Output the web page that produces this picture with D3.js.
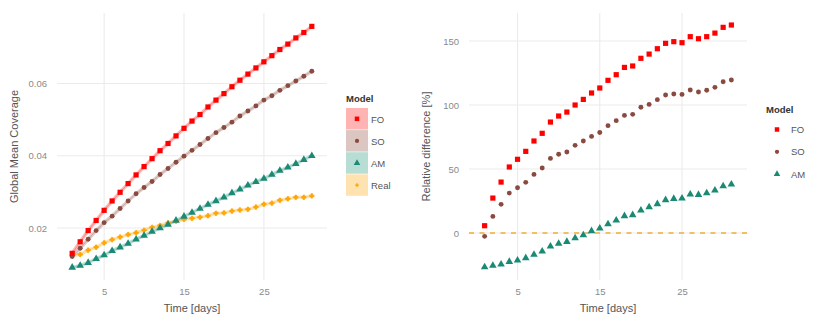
<!DOCTYPE html>
<html>
<head>
<meta charset="utf-8">
<script src="https://cdn.jsdelivr.net/npm/d3@7"></script>
<style>
  body { margin: 0; background: #fff; }
  svg text { font-family: "Liberation Sans", Arial, sans-serif; }
</style>
</head>
<body>
<svg id="chart" width="830" height="323"></svg>
<script>
// days 1..31
var days = d3.range(1, 32);

// left panel: global mean coverage
var coverFO = [0.0130, 0.0162, 0.0193, 0.0221, 0.0249, 0.0275, 0.0299, 0.0323, 0.0347, 0.0370,
               0.0392, 0.0414, 0.0434, 0.0455, 0.0476, 0.0496, 0.0514, 0.0535, 0.0554, 0.0572,
               0.0591, 0.0609, 0.0626, 0.0643, 0.0660, 0.0677, 0.0694, 0.0709, 0.0726, 0.0741, 0.0758];
var coverSO = [0.0121, 0.0144, 0.0169, 0.0193, 0.0215, 0.0233, 0.0254, 0.0275, 0.0295, 0.0312,
               0.0329, 0.0348, 0.0365, 0.0382, 0.0399, 0.0415, 0.0431, 0.0448, 0.0464, 0.0478,
               0.0493, 0.0510, 0.0524, 0.0538, 0.0554, 0.0566, 0.0581, 0.0594, 0.0607, 0.0620, 0.0634];
var coverAM = [0.0091, 0.0096, 0.0104, 0.0115, 0.0125, 0.0137, 0.0147, 0.0157, 0.0169, 0.0179,
               0.0190, 0.0200, 0.0210, 0.0221, 0.0232, 0.0243, 0.0254, 0.0265, 0.0275, 0.0285,
               0.0297, 0.0307, 0.0318, 0.0328, 0.0337, 0.0348, 0.0359, 0.0368, 0.0378, 0.0389, 0.0400];
var coverReal = [0.0125, 0.0127, 0.0139, 0.0147, 0.0159, 0.0168, 0.0175, 0.0182, 0.0187, 0.0194,
                 0.0202, 0.0207, 0.0214, 0.0219, 0.0224, 0.0227, 0.0230, 0.0234, 0.0241, 0.0242,
                 0.0247, 0.0250, 0.0252, 0.0258, 0.0266, 0.0269, 0.0277, 0.0281, 0.0285, 0.0285, 0.0289];

// right panel: relative difference [%]
var relFO = [5.7, 27.3, 39.8, 51.6, 57.6, 63.8, 71.9, 77.9, 86.7, 91.4,
             94.5, 100.0, 104.4, 109.4, 113.3, 119.3, 123.7, 129.4, 130.5, 136.5,
             139.8, 144.0, 148.2, 149.5, 148.7, 153.4, 151.8, 153.4, 156.2, 160.7, 162.5];
var relSO = [-2.6, 13.0, 22.4, 31.2, 35.4, 39.6, 45.8, 50.8, 58.3, 61.5,
             63.3, 68.5, 71.9, 75.5, 78.6, 83.9, 87.8, 91.9, 92.7, 98.2,
             100.5, 104.2, 107.8, 108.6, 108.3, 111.7, 110.2, 111.5, 113.8, 118.2, 119.5];
var relAM = [-26.6, -25.5, -24.5, -22.4, -21.4, -19.5, -16.9, -14.3, -10.4, -8.3,
             -6.8, -3.9, -1.6, 1.6, 3.6, 7.0, 9.9, 13.3, 14.1, 17.7,
             20.3, 22.7, 25.8, 26.8, 27.1, 30.2, 29.9, 31.2, 33.3, 36.7, 38.0];

var xTicks = [5, 15, 25];
var leftYTicks = [0.02, 0.04, 0.06];
var rightYTicks = [0, 50, 100, 150];

var modelNames = ["FO", "SO", "AM", "Real"];
var modelColors = {FO: "#ff0000", SO: "#8b4a40", AM: "#1b8a74", Real: "#ffa500"};
var modelKeyFill = {FO: "#ffb3b3", SO: "#dcc6c2", AM: "#b8ddd5", Real: "#fee3b0"};
var modelShapes = {FO: d3.symbolSquare, SO: d3.symbolCircle, AM: d3.symbolTriangle, Real: d3.symbolCross};
var modelSizes = {FO: 27, SO: 19, AM: 25, Real: 11};

var svg = d3.select("#chart");
var gridColor = "#ebebeb";
var tickColor = "#8a8a8a";
var titleColor = "#555555";

function drawPanel(opt) {
    var g = svg.append("g");
    var xScale = d3.scaleLinear().domain([-0.9, 32.9]).range([opt.left, opt.right]);
    var yScale = d3.scaleLinear().domain(opt.yDomain).range([opt.bottom, opt.top]);

    // major grid
    g.selectAll(".gx").data(xTicks).enter().append("line")
        .attr("x1", d => xScale(d)).attr("x2", d => xScale(d))
        .attr("y1", opt.top).attr("y2", opt.bottom)
        .attr("stroke", gridColor).attr("stroke-width", 1.1);
    g.selectAll(".gy").data(opt.yTicks).enter().append("line")
        .attr("x1", opt.left).attr("x2", opt.right)
        .attr("y1", d => yScale(d)).attr("y2", d => yScale(d))
        .attr("stroke", gridColor).attr("stroke-width", 1.1);

    // axes (tick labels only)
    var xAxis = g.append("g").attr("transform", "translate(0," + opt.bottom + ")")
        .call(d3.axisBottom(xScale).tickValues(xTicks).tickSize(0).tickPadding(8));
    var yAxis = g.append("g").attr("transform", "translate(" + opt.left + ",0)")
        .call(d3.axisLeft(yScale).tickValues(opt.yTicks).tickFormat(opt.yFormat).tickSize(0).tickPadding(10));
    [xAxis, yAxis].forEach(function(a) {
        a.select(".domain").remove();
        a.selectAll("text").attr("fill", tickColor).style("font-size", "9.5px");
    });

    g.append("text")
        .attr("x", (opt.left + opt.right) / 2).attr("y", 312)
        .attr("text-anchor", "middle").attr("fill", titleColor)
        .style("font-size", "11px").text("Time [days]");
    g.append("text")
        .attr("transform", "translate(" + opt.yTitleX + "," + ((opt.top + opt.bottom) / 2) + ") rotate(-90)")
        .attr("text-anchor", "middle").attr("fill", titleColor)
        .style("font-size", "11px").text(opt.yTitle);

    return {g: g, x: xScale, y: yScale};
}

function drawSymbols(p, name, values) {
    p.g.append("g").selectAll("path").data(values).enter().append("path")
        .attr("transform", (d, i) => "translate(" + p.x(days[i]) + "," + p.y(d) + ")")
        .attr("d", d3.symbol().type(modelShapes[name]).size(modelSizes[name]))
        .attr("fill", modelColors[name])
        .attr("stroke", name === "Real" ? modelColors[name] : "none")
        .attr("stroke-width", 0.8).attr("stroke-linejoin", "round");
}

// ---- left panel
var left = drawPanel({
    left: 57, right: 327, top: 13, bottom: 280,
    yDomain: [0.00563, 0.0795], yTicks: leftYTicks,
    yFormat: d3.format(".2f"), yTitle: "Global Mean Coverage", yTitleX: 18
});

var leftSeries = {FO: coverFO, SO: coverSO, AM: coverAM, Real: coverReal};
var lineGen = d3.line().x((d, i) => left.x(days[i])).y(d => left.y(d));
["Real", "AM", "SO", "FO"].forEach(function(name) {
    left.g.append("path").attr("d", lineGen(leftSeries[name]))
        .attr("fill", "none").attr("stroke", modelColors[name])
        .attr("stroke-opacity", 0.28).attr("stroke-width", 3.5);
    left.g.append("path").attr("d", lineGen(leftSeries[name]))
        .attr("fill", "none").attr("stroke", modelColors[name])
        .attr("stroke-opacity", 0.35).attr("stroke-width", 0.8);
});
["Real", "AM", "SO", "FO"].forEach(function(name) {
    drawSymbols(left, name, leftSeries[name]);
});

// left legend
var lg = svg.append("g").attr("transform", "translate(346,0)");
lg.append("text").attr("x", 0).attr("y", 102).attr("fill", "#333")
    .style("font-size", "9.5px").style("font-weight", "bold").text("Model");
modelNames.forEach(function(name, i) {
    var y0 = 108 + i * 22.1;
    lg.append("rect").attr("x", 0).attr("y", y0).attr("width", 22).attr("height", 21.5)
        .attr("fill", modelKeyFill[name]);
    lg.append("path").attr("transform", "translate(11," + (y0 + 10.8) + ")")
        .attr("d", d3.symbol().type(modelShapes[name]).size(modelSizes[name] * 0.75))
        .attr("fill", modelColors[name]);
    lg.append("text").attr("x", 25).attr("y", y0 + 14.5).attr("fill", "#555")
        .style("font-size", "9.5px").text(name);
});

// ---- right panel
var right = drawPanel({
    left: 469, right: 747, top: 13, bottom: 280,
    yDomain: [-36.7, 171.9], yTicks: rightYTicks,
    yFormat: d3.format("d"), yTitle: "Relative difference [%]", yTitleX: 430
});

right.g.append("line")
    .attr("x1", 469).attr("x2", 747)
    .attr("y1", right.y(0)).attr("y2", right.y(0))
    .attr("stroke", "#f0b030").attr("stroke-width", 1.6)
    .attr("stroke-dasharray", "5,5.5");

var rightSeries = {FO: relFO, SO: relSO, AM: relAM};
["AM", "SO", "FO"].forEach(function(name) {
    drawSymbols(right, name, rightSeries[name]);
});

// right legend
var rg = svg.append("g").attr("transform", "translate(766,0)");
rg.append("text").attr("x", 0).attr("y", 113).attr("fill", "#333")
    .style("font-size", "9.5px").style("font-weight", "bold").text("Model");
["FO", "SO", "AM"].forEach(function(name, i) {
    var yc = 129.5 + i * 22.3;
    rg.append("path").attr("transform", "translate(11," + yc + ")")
        .attr("d", d3.symbol().type(modelShapes[name]).size(modelSizes[name] * 0.75))
        .attr("fill", modelColors[name]);
    rg.append("text").attr("x", 25).attr("y", yc + 3.5).attr("fill", "#555")
        .style("font-size", "9.5px").text(name);
});
</script>
</body>
</html>
